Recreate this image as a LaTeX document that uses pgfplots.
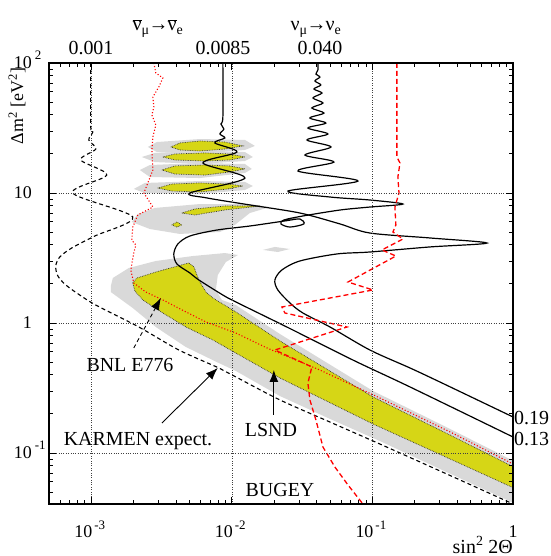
\documentclass[border=0pt]{standalone}
\usepackage{fontspec}
\setmainfont{Liberation Serif}
\usepackage{pgfplots}
\pgfplotsset{compat=1.18}
\usetikzlibrary{arrows.meta}
\definecolor{lgrey}{RGB}{217,217,217}
\definecolor{lyel}{RGB}{214,214,22}
\newcommand\xl[1]{\makebox[0pt][r]{10\kern-1bp}\makebox[0pt][l]{\smash{\kern3bp\raisebox{8bp}{\fontsize{13}{13}\selectfont #1}}}}
\newcommand\yl[1]{10\rlap{\smash{\kern3bp\raisebox{9bp}{\fontsize{13}{13}\selectfont #1}}}}
\newcommand\nubar{\ensuremath{\overline{\hbox{ν}}}}
\pgfkeys{/pgfplots/table/L/.style={x expr={10^(\thisrow{lx})}, y expr={10^(\thisrow{ly})}, row sep=\\}}
\begin{document}
\begin{tikzpicture}
\path[use as bounding box] (0,0) rectangle (551bp,556bp);
\begin{axis}[
 at={(49bp,52bp)}, anchor=south west,
 scale only axis, width=464bp, height=441bp,
 xmode=log, ymode=log,
 xmin=5e-4, xmax=1, ymin=0.0405, ymax=100,
 xtick={0.001,0.01,0.1,1}, xticklabels={\xl{-3},\xl{-2},\xl{-1},\makebox[0pt]{1}},
 ytick={0.1,1,10,100}, yticklabels={\yl{-1},1,10,\yl{2}},
 minor xtick={6e-4,7e-4,8e-4,9e-4,2e-3,3e-3,4e-3,5e-3,6e-3,7e-3,8e-3,9e-3,0.02,0.03,0.04,0.05,0.06,0.07,0.08,0.09,0.2,0.3,0.4,0.5,0.6,0.7,0.8,0.9},
 minor ytick={0.05,0.06,0.07,0.08,0.09,0.2,0.3,0.4,0.5,0.6,0.7,0.8,0.9,2,3,4,5,6,7,8,9,20,30,40,50,60,70,80,90},
 tick align=inside,
 major tick length=7bp, minor tick length=4bp,
 every tick/.style={black, line width=0.8bp},
 grid=major, major grid style={dotted, black!75, line width=0.7bp},
 axis on top,
 axis line style={line width=1.3bp},
 tick label style={font=\fontsize{18}{18}\selectfont},
 xticklabel style={anchor=base, inner sep=0pt, yshift=-33bp},
 yticklabel style={anchor=east, inner sep=0pt, xshift=-17bp},
 clip mode=individual,
]
% ---- LSND 99% (grey)
\addplot[fill=lgrey, draw=none] table[L] {lx ly\\
-2.861 0.285\\ -2.847 0.346\\ -2.733 0.423\\ -2.541 0.477\\ -2.278 0.515\\ -2.050 0.538\\ -1.957 0.523\\ -2.043 0.469\\ -2.100 0.369\\ -2.114 0.254\\ -2.071 0.177\\ -1.972 0.138\\ -1.658 -0.085\\ -0.996 -0.523\\ -0.448 -0.815\\ 0.005 -1.062\\ 0.005 -1.385\\ -0.520 -1.123\\ -0.947 -0.908\\ -1.302 -0.738\\ -1.658 -0.562\\ -1.972 -0.369\\ -2.093 -0.308\\ -2.327 -0.185\\ -2.541 -0.031\\ -2.705 0.115\\ -2.861 0.238\\
} -- cycle;
\addplot[fill=lgrey, draw=none] table[L] {lx ly\\
-2.598 1.354\\ -2.534 1.392\\ -2.228 1.415\\ -1.907 1.408\\ -1.836 1.362\\ -1.907 1.331\\ -2.228 1.300\\ -2.534 1.315\\
} -- cycle;
\addplot[fill=lgrey, draw=none] table[L] {lx ly\\
-2.641 1.277\\ -2.548 1.308\\ -2.228 1.323\\ -1.907 1.315\\ -1.851 1.277\\ -1.907 1.246\\ -2.228 1.223\\ -2.548 1.238\\
} -- cycle;
\addplot[fill=lgrey, draw=none] table[L] {lx ly\\
-2.655 1.177\\ -2.584 1.215\\ -2.228 1.231\\ -1.907 1.223\\ -1.858 1.185\\ -1.907 1.154\\ -2.228 1.115\\ -2.584 1.123\\
} -- cycle;
\addplot[fill=lgrey, draw=none] table[L] {lx ly\\
-2.698 1.031\\ -2.619 1.077\\ -2.228 1.092\\ -1.907 1.085\\ -1.851 1.054\\ -1.907 1.023\\ -2.228 0.992\\ -2.619 1.000\\
} -- cycle;
\addplot[fill=lgrey, draw=none] table[L] {lx ly\\
-2.712 0.777\\ -2.669 0.838\\ -2.548 0.885\\ -2.228 0.915\\ -1.872 0.915\\ -1.730 0.892\\ -1.872 0.846\\ -1.979 0.754\\ -2.085 0.700\\ -2.370 0.685\\ -2.584 0.723\\
} -- cycle;
\addplot[fill=lgrey, draw=none] table[L] {lx ly\\
-1.779 0.562\\ -1.694 0.585\\ -1.587 0.569\\ -1.673 0.546\\
} -- cycle;
% ---- LSND 90% (yellow)
\addplot[fill=lyel, draw=black!80, densely dotted, line width=0.7bp] table[L] {lx ly\\
-2.705 0.308\\ -2.676 0.346\\ -2.541 0.392\\ -2.306 0.462\\ -2.270 0.431\\ -2.235 0.331\\ -2.185 0.238\\ -2.135 0.192\\ -1.972 0.085\\ -1.658 -0.138\\ -0.996 -0.569\\ -0.448 -0.862\\ 0.005 -1.108\\ 0.005 -1.269\\ -0.448 -1.046\\ -0.996 -0.777\\ -1.658 -0.423\\ -1.972 -0.231\\ -2.135 -0.131\\ -2.327 -0.031\\ -2.491 0.077\\ -2.633 0.177\\ -2.690 0.246\\
} -- cycle;
\addplot[fill=lyel, draw=black!80, densely dotted, line width=0.7bp] table[L] {lx ly\\
-2.434 1.354\\ -2.370 1.385\\ -2.228 1.400\\ -2.050 1.392\\ -1.922 1.362\\ -2.050 1.338\\ -2.228 1.323\\ -2.370 1.331\\
} -- cycle;
\addplot[fill=lyel, draw=black!80, densely dotted, line width=0.7bp] table[L] {lx ly\\
-2.491 1.277\\ -2.406 1.300\\ -2.192 1.308\\ -2.014 1.300\\ -1.907 1.277\\ -2.014 1.254\\ -2.192 1.246\\ -2.406 1.254\\
} -- cycle;
\addplot[fill=lyel, draw=black!80, densely dotted, line width=0.7bp] table[L] {lx ly\\
-2.498 1.177\\ -2.406 1.208\\ -2.192 1.215\\ -2.014 1.208\\ -1.907 1.185\\ -2.014 1.162\\ -2.192 1.138\\ -2.406 1.146\\
} -- cycle;
\addplot[fill=lyel, draw=black!80, densely dotted, line width=0.7bp] table[L] {lx ly\\
-2.527 1.038\\ -2.427 1.069\\ -2.228 1.077\\ -2.028 1.069\\ -1.922 1.054\\ -2.028 1.031\\ -2.228 1.008\\ -2.427 1.015\\
} -- cycle;
\addplot[fill=lyel, draw=black!80, densely dotted, line width=0.7bp] table[L] {lx ly\\
-2.356 0.846\\ -2.263 0.877\\ -2.050 0.900\\ -1.801 0.900\\ -2.050 0.869\\ -2.263 0.831\\
} -- cycle;
\addplot[fill=lyel, draw=black!80, densely dotted, line width=0.7bp] table[L] {lx ly\\
-2.427 0.754\\ -2.391 0.777\\ -2.356 0.754\\ -2.391 0.738\\
} -- cycle;
% ---- BNL E776 (red dotted)
\addplot[red, dotted, line width=1.1bp] table[L] {lx ly\\
-2.555 2.0\\ -2.541 1.923\\ -2.491 1.885\\ -2.520 1.815\\ -2.562 1.738\\ -2.555 1.662\\ -2.569 1.600\\ -2.541 1.523\\ -2.562 1.431\\ -2.569 1.331\\ -2.562 1.177\\ -2.598 1.077\\ -2.626 1.000\\ -2.562 0.892\\ -2.669 0.831\\ -2.705 0.738\\ -2.712 0.638\\ -2.683 0.600\\ -2.698 0.538\\ -2.719 0.408\\ -2.698 0.308\\ -2.612 0.238\\ -2.491 0.177\\ -2.327 0.085\\ -2.185 0.008\\ -1.972 -0.077\\ -1.751 -0.192\\ -1.374 -0.362\\ -0.947 -0.577\\ -0.448 -0.838\\ 0 -1.085\\
};
% ---- KARMEN expectation (black dashed)
\addplot[black, dash pattern=on 4bp off 3bp, line width=1.1bp, smooth, tension=0.5] table[L] {lx ly\\
-3.004 2.0\\ -3.004 1.508\\ -2.989 1.469\\ -3.018 1.408\\ -2.968 1.338\\ -3.075 1.254\\ -2.890 1.138\\ -3.132 1.0\\ -2.705 0.815\\ -2.975 0.669\\ -3.139 0.577\\ -3.224 0.508\\ -3.253 0.438\\ -3.238 0.362\\ -3.181 0.292\\ -3.082 0.215\\ -2.968 0.138\\ -2.662 -0.031\\ -2.377 -0.208\\ -2.093 -0.346\\ -1.972 -0.415\\ -1.658 -0.592\\ -1.302 -0.762\\ -0.947 -0.931\\ -0.520 -1.138\\ 0 -1.392\\
};
% ---- curve A (0.0085 -> 0.19)
\addplot[black, line width=1.2bp, smooth, tension=0.5] table[L] {lx ly\\
-2.064 2.0\\ -2.064 1.585\\ -2.078 1.531\\ -2.057 1.492\\ -2.085 1.454\\ -2.050 1.423\\ -2.121 1.385\\ -1.964 1.315\\ -2.206 1.231\\ -1.907 1.115\\ -2.299 1.0\\ -2.178 0.962\\ -1.872 0.908\\ -1.516 0.846\\ -1.231 0.762\\ -1.018 0.692\\ -0.591 0.654\\ -0.185 0.615\\ -0.591 0.585\\ -1.018 0.546\\ -1.253 0.531\\ -1.516 0.477\\ -1.644 0.408\\ -1.694 0.331\\ -1.673 0.254\\ -1.587 0.154\\ -1.495 0.077\\ -1.302 -0.031\\ -1.018 -0.208\\ -0.733 -0.346\\ -0.520 -0.454\\ 0 -0.723\\
};
% ---- curve B (0.040 -> 0.13)
\addplot[black, line width=1.2bp, smooth, tension=0.5] table[L] {lx ly\\
-1.388 2.0\\ -1.388 1.946\\ -1.402 1.915\\ -1.374 1.892\\ -1.409 1.862\\ -1.367 1.831\\ -1.416 1.800\\ -1.359 1.769\\ -1.423 1.731\\ -1.352 1.692\\ -1.431 1.654\\ -1.345 1.615\\ -1.445 1.577\\ -1.331 1.538\\ -1.459 1.500\\ -1.317 1.454\\ -1.466 1.408\\ -1.295 1.354\\ -1.480 1.292\\ -1.274 1.238\\ -1.530 1.169\\ -1.103 1.092\\ -1.601 1.015\\ -1.302 0.969\\ -1.018 0.946\\ -0.783 0.915\\ -1.018 0.892\\ -1.231 0.869\\ -1.495 0.823\\ -1.630 0.792\\ -1.651 0.762\\ -1.587 0.738\\ -1.488 0.762\\ -1.516 0.800\\ -1.623 0.785\\ -1.872 0.746\\ -2.107 0.715\\ -2.299 0.669\\ -2.384 0.608\\ -2.413 0.531\\ -2.391 0.454\\ -2.299 0.385\\ -2.235 0.331\\ -2.064 0.215\\ -1.972 0.162\\ -1.609 -0.031\\ -1.139 -0.285\\ -0.733 -0.492\\ 0 -0.877\\
};
% ---- BUGEY (red dashed)
\addplot[red, dash pattern=on 5bp off 3bp, line width=1.3bp] table[L] {lx ly\\
-0.826 2.0\\ -0.826 1.277\\ -0.804 1.231\\ -0.819 1.123\\ -0.811 1.0\\ -0.840 0.892\\ -0.833 0.754\\ -0.854 0.700\\ -0.783 0.646\\ -0.932 0.562\\ -0.833 0.515\\ -1.174 0.315\\ -0.996 0.254\\ -1.644 0.123\\ -1.623 0.077\\ -1.181 -0.031\\ -1.694 -0.208\\ -1.431 -0.338\\ -1.459 -0.462\\ -1.445 -0.592\\ -1.402 -0.746\\ -1.352 -0.954\\ -1.267 -1.108\\ -1.174 -1.246\\ -1.068 -1.392\\
};
% ---- arrows
\draw[black, dash pattern=on 4bp off 3bp, line width=0.9bp, -{Latex[length=12bp,width=9bp]}] (axis cs:0.002005,0.642) -- (axis cs:0.003125,1.557);
\draw[black, line width=0.9bp, -{Latex[length=12bp,width=9bp]}] (axis cs:0.003177,0.170) -- (axis cs:0.00794,0.451);
\draw[black, line width=0.9bp, -{Latex[length=12bp,width=9bp]}] (axis cs:0.0199,0.196) -- (axis cs:0.0199,0.435);
\end{axis}
\begin{scope}[every node/.style={inner sep=0pt, font=\fontsize{20}{24}\selectfont}]
\node[anchor=base] at (130bp,184bp) {BNL E776};
\node[anchor=base] at (138bp,110bp) {KARMEN expect.};
\node[anchor=base] at (271bp,119bp) {LSND};
\node[anchor=base] at (280bp,59bp) {BUGEY};
\node[anchor=base west] at (514bp,131bp) {0.19};
\node[anchor=base west] at (514bp,110bp) {0.13};
\node[anchor=base] at (91bp,501bp) {0.001};
\node[anchor=base] at (223bp,501bp) {0.0085};
\node[anchor=base] at (320bp,501bp) {0.040};
\node[anchor=base] at (158bp,525bp) {\nubar\textsubscript{μ}\kern-1bp→\kern-1bp\nubar\textsubscript{e}};
\node[anchor=base] at (316bp,525bp) {ν\textsubscript{μ}\kern-1bp→\kern-1bp ν\textsubscript{e}};
\node[anchor=base east] at (513bp,3bp) {sin\textsuperscript{2} 2Θ};
\node[anchor=base, rotate=90, font=\fontsize{18}{22}\selectfont] at (23bp,450bp) {Δm\textsuperscript{2} [eV\textsuperscript{2}]};
\end{scope}
\end{tikzpicture}
\end{document}
